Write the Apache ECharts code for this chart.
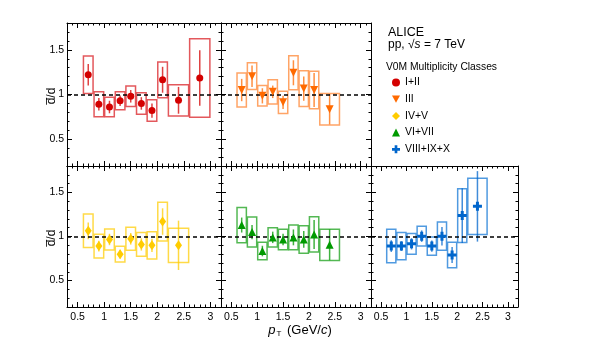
<!DOCTYPE html>
<html>
<head>
<meta charset="utf-8">
<script src="https://cdn.jsdelivr.net/npm/echarts@6/dist/echarts.min.js"></script>
<style>
  html, body { margin: 0; padding: 0; background: #fff; }
  #chart { width: 591px; height: 351px; }
</style>
</head>
<body>
<div id="chart"></div>
<script>
// pT bins (GeV/c)
const xCenters = [0.7, 0.9, 1.1, 1.3, 1.5, 1.7, 1.9, 2.1, 2.4, 2.8];
const binLow = [0.6, 0.8, 1.0, 1.2, 1.4, 1.6, 1.8, 2.0, 2.2, 2.6];
const binHigh = [0.8, 1.0, 1.2, 1.4, 1.6, 1.8, 2.0, 2.2, 2.6, 3.0];

// dbar/d ratio, stat. error, syst. error per V0M class
const ratioI_II = [1.22, 0.89, 0.86, 0.93, 0.98, 0.90, 0.82, 1.165, 0.935, 1.185];
const statI_II = [0.12, 0.07, 0.07, 0.06, 0.07, 0.07, 0.08, 0.145, 0.15, 0.31];
const sysI_II = [0.21, 0.14, 0.11, 0.10, 0.115, 0.12, 0.12, 0.20, 0.175, 0.44];

const ratioIII = [1.05, 1.205, 0.985, 1.03, 0.912, 1.243, 1.066, 1.05, 0.835];
const statIII = [0.125, 0.12, 0.085, 0.07, 0.075, 0.14, 0.135, 0.19, 0.17];
const sysIII = [0.19, 0.15, 0.115, 0.135, 0.125, 0.19, 0.20, 0.21, 0.175];

const ratioIV_V = [1.064, 0.891, 0.966, 0.80, 0.974, 0.91, 0.90, 1.17, 0.90];
const statIV_V = [0.095, 0.06, 0.065, 0.05, 0.066, 0.07, 0.075, 0.15, 0.28];
const sysIV_V = [0.19, 0.135, 0.12, 0.09, 0.13, 0.135, 0.155, 0.22, 0.195];

const ratioVI_VII = [1.13, 1.05, 0.835, 0.99, 0.966, 0.99, 0.966, 1.023, 0.906];
const statVI_VII = [0.085, 0.08, 0.06, 0.065, 0.065, 0.09, 0.095, 0.165, 0.175];
const sysVI_VII = [0.20, 0.17, 0.10, 0.11, 0.115, 0.14, 0.155, 0.20, 0.177];

const ratioVIII_X = [0.891, 0.891, 0.917, 1.004, 0.891, 1.004, 0.79, 1.237, 1.342];
const statVIII_X = [0.066, 0.055, 0.064, 0.065, 0.065, 0.105, 0.09, 0.31, 0.40];
const sysVIII_X = [0.19, 0.155, 0.117, 0.113, 0.103, 0.16, 0.145, 0.305, 0.32];

const xTickLabels = [0.5, 1, 1.5, 2, 2.5, 3];
const yTickLabels = [0.5, 1, 1.5];

const FONT = 'Liberation Sans, Arial, Helvetica, sans-serif';

// panel layout: [left, top, width, height], label flags
const panels = [
  { rect: [67, 23, 154, 143], xLab: false, yLab: true },
  { rect: [221, 23, 150, 143], xLab: false, yLab: false },
  { rect: [67, 166, 154, 141], xLab: true, yLab: true },
  { rect: [221, 166, 150, 141], xLab: true, yLab: false },
  { rect: [371, 166, 147, 141], xLab: true, yLab: false }
];

const classes = [
  { name: 'I+II', ratio: ratioI_II, stat: statI_II, sys: sysI_II, color: '#d40000', box: '#e0464a', symbol: 'circle', size: 7 },
  { name: 'III', ratio: ratioIII, stat: statIII, sys: sysIII, color: '#ff6a00', box: '#ff9a55', symbol: 'path://M0,0L10,0L5,9Z', size: [8, 8] },
  { name: 'IV+V', ratio: ratioIV_V, stat: statIV_V, sys: sysIV_V, color: '#ffcc00', box: '#ffd633', symbol: 'diamond', size: [7, 10] },
  { name: 'VI+VII', ratio: ratioVI_VII, stat: statVI_VII, sys: sysVI_VII, color: '#009a00', box: '#40b040', symbol: 'triangle', size: [8, 8] },
  { name: 'VIII+IX+X', ratio: ratioVIII_X, stat: statVIII_X, sys: sysVIII_X, color: '#0066cc', box: '#3d8fdd', symbol: 'path://M3,0H6V3H9V6H6V9H3V6H0V3H3Z', size: [9, 9] }
];

function range(a, b, step) {
  const out = [];
  for (let v = a; v <= b + 1e-9; v += step) out.push(Math.round(v * 100) / 100);
  return out;
}
const xMajor = xTickLabels;
const xMinor = range(0.4, 3.1, 0.1);
const yMajor = yTickLabels;
const yMinor = range(0.3, 1.7, 0.1);

const grid = [];
const xAxis = [];
const yAxis = [];
const series = [];

function xAx(gi, pos, ticks, len, showLine, labels) {
  return {
    gridIndex: gi, type: 'value', position: pos, min: 0.3, max: 3.2,
    axisLine: { show: showLine, onZero: false, lineStyle: { color: '#000', width: 1 } },
    axisTick: { show: true, inside: true, length: len, customValues: ticks, lineStyle: { color: '#000', width: 1 } },
    axisLabel: labels ? { show: true, customValues: xTickLabels, margin: 5, fontSize: 10.5, fontFamily: FONT, color: '#000' } : { show: false },
    splitLine: { show: false }
  };
}
function yAx(gi, pos, ticks, len, showLine, labels) {
  return {
    gridIndex: gi, type: 'value', position: pos, min: 0.2, max: 1.8,
    axisLine: { show: showLine, onZero: false, lineStyle: { color: '#000', width: 1 } },
    axisTick: { show: true, inside: true, length: len, customValues: ticks, lineStyle: { color: '#000', width: 1 } },
    axisLabel: labels ? { show: true, customValues: yTickLabels, margin: 3, fontSize: 10.5, fontFamily: FONT, color: '#000' } : { show: false },
    splitLine: { show: false }
  };
}

panels.forEach((p, gi) => {
  grid.push({ left: p.rect[0], top: p.rect[1], width: p.rect[2], height: p.rect[3], containLabel: false });
  const xi = xAxis.length, yi = yAxis.length;
  xAxis.push(xAx(gi, 'bottom', xMajor, 5, true, p.xLab));
  xAxis.push(xAx(gi, 'bottom', xMinor, 2.5, false, false));
  xAxis.push(xAx(gi, 'top', xMajor, 5, true, false));
  xAxis.push(xAx(gi, 'top', xMinor, 2.5, false, false));
  yAxis.push(yAx(gi, 'left', yMajor, 5, true, p.yLab));
  yAxis.push(yAx(gi, 'left', yMinor, 2.5, false, false));
  yAxis.push(yAx(gi, 'right', yMajor, 5, true, false));
  yAxis.push(yAx(gi, 'right', yMinor, 2.5, false, false));

  const c = classes[gi];
  const rows = c.ratio.map((v, i) => [xCenters[i], v, c.stat[i], binLow[i], binHigh[i], c.sys[i]]);

  // systematic boxes
  series.push({
    type: 'custom', xAxisIndex: xi, yAxisIndex: yi, silent: true, z: 2,
    data: rows, encode: { x: 0, y: 1 },
    renderItem: (params, api) => {
      const v = api.value(1), s = api.value(5);
      const p1 = api.coord([api.value(3), v + s]);
      const p2 = api.coord([api.value(4), v - s]);
      return {
        type: 'rect',
        shape: { x: p1[0] + 0.5, y: p1[1], width: p2[0] - p1[0] - 1, height: p2[1] - p1[1] },
        style: { fill: 'none', stroke: c.box, lineWidth: 1.5, opacity: 0.9 }
      };
    },
    markLine: {
      silent: true, symbol: 'none', label: { show: false },
      lineStyle: { color: '#000', type: [4, 3], width: 1.6 },
      data: [{ yAxis: 1 }]
    }
  });
  // statistical error bars
  series.push({
    type: 'custom', xAxisIndex: xi, yAxisIndex: yi, silent: true, z: 4,
    data: rows, encode: { x: 0, y: 1 },
    renderItem: (params, api) => {
      const v = api.value(1), e = api.value(2);
      const a = api.coord([api.value(0), v + e]);
      const b = api.coord([api.value(0), v - e]);
      return {
        type: 'line',
        shape: { x1: a[0], y1: a[1], x2: b[0], y2: b[1] },
        style: { stroke: c.color, lineWidth: 1.5, opacity: 0.75 }
      };
    }
  });
  // markers
  series.push({
    type: 'scatter', name: c.name, xAxisIndex: xi, yAxisIndex: yi, z: 5,
    symbol: c.symbol, symbolSize: c.size,
    itemStyle: { color: c.color, opacity: 1 },
    data: rows.map(r => [r[0], r[1]])
  });
});

const option = {
  animation: false,
  backgroundColor: '#fff',
  textStyle: { fontFamily: FONT },
  grid, xAxis, yAxis, series,
  legend: {
    orient: 'vertical', left: 387, top: 72, itemGap: 5.7,
    itemWidth: 8, itemHeight: 8, selectedMode: false,
    textStyle: { fontSize: 10.5, fontFamily: FONT, color: '#000', padding: [0, 0, 0, 0] },
    data: classes.map(c => ({ name: c.name, itemStyle: { color: c.color } }))
  },
  graphic: [
    { type: 'text', left: 388, top: 26, style: { text: 'ALICE', fontSize: 12.5, fontFamily: FONT, fill: '#000' } },
    {
      type: 'text', left: 388, top: 39,
      style: {
        text: 'pp, √{i|s} = 7 TeV', fontSize: 12, fontFamily: FONT, fill: '#000',
        rich: { i: { fontStyle: 'italic', fontSize: 12, fontFamily: FONT } }
      }
    },
    { type: 'text', left: 386, top: 62, style: { text: 'V0M Multiplicity Classes', fontSize: 10.3, fontFamily: FONT, fill: '#000' } },
    { type: 'text', x: 52, y: 96, rotation: Math.PI / 2, style: { text: 'd\u0305/d', fontSize: 12, fontFamily: FONT, fill: '#000', align: 'center', verticalAlign: 'middle' } },
    { type: 'text', x: 52, y: 238, rotation: Math.PI / 2, style: { text: 'd\u0305/d', fontSize: 12, fontFamily: FONT, fill: '#000', align: 'center', verticalAlign: 'middle' } },
    {
      type: 'text', x: 300, y: 330,
      style: {
        text: '{i|p}{sub|T} (GeV/{i|c})', fontSize: 13, fontFamily: FONT, fill: '#000',
        align: 'center', verticalAlign: 'middle',
        rich: {
          i: { fontStyle: 'italic', fontSize: 13, fontFamily: FONT },
          sub: { fontSize: 8, fontFamily: FONT, padding: [8, 2, 0, 1] }
        }
      }
    }
  ]
};

const chart = echarts.init(document.getElementById('chart'), null, { renderer: 'canvas' });
chart.setOption(option);
</script>
</body>
</html>
